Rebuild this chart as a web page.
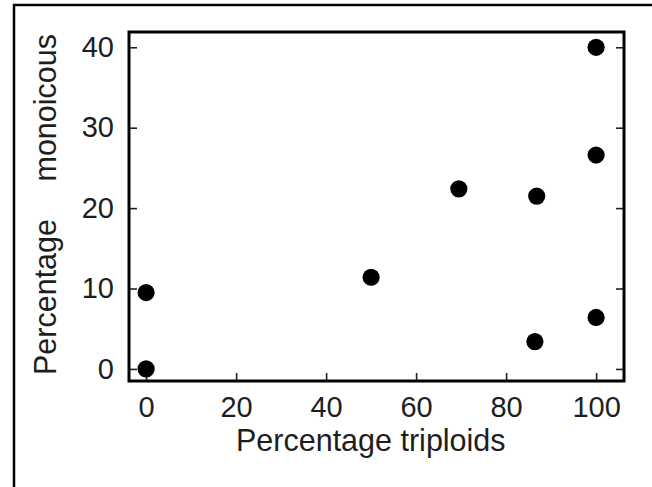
<!DOCTYPE html>
<html>
  <head>
    <meta charset="utf-8" />
    <script src="https://d3js.org/d3.v7.min.js"></script>
    <title>Percentage monoicous vs percentage triploids</title>
    <style>
      body {
        margin: 0px;
        background: #fff;
        font-family: 'Liberation Sans', Arial, sans-serif;
      }
      .domain {
        display: none;
      }
      .tick line {
        stroke: #222;
        stroke-width: 1.6;
      }
      .tick text {
        fill: #1e1e1e;
        font-size: 29px;
        font-family: 'Liberation Sans', Arial, sans-serif;
      }
      .axis-label {
        fill: #1e1e1e;
        font-size: 30.5px;
      }
    </style>
  </head>
  <body>
    <script>
      // percentage triploids (x) and percentage monoicous (y)
      const triploids = [0, 0, 50, 69.5, 86.8, 86.4, 100, 100, 100];
      const monoicous = [9.5, 0, 11.4, 22.4, 21.5, 3.4, 40, 26.6, 6.4];
      const xTicks = [0, 20, 40, 60, 80, 100];
      const yTicks = [0, 10, 20, 30, 40];
      const xLabel = 'Percentage triploids';
      const yLabelWords = ['Percentage', 'monoicous'];

      const width = 652;
      const height = 487;
      const box = { left: 129, right: 624, top: 32, bottom: 381 };

      const svg = d3
        .select('body')
        .append('svg')
        .attr('width', width)
        .attr('height', height);

      // outer frame (only top and left edges are visible)
      svg
        .append('path')
        .attr('d', `M14,${height + 5} V5 H${width + 5}`)
        .attr('fill', 'none')
        .attr('stroke', '#000')
        .attr('stroke-width', 2.5);

      const xScale = d3
        .scaleLinear()
        .domain([-3.8, 106.2])
        .range([box.left, box.right]);
      const yScale = d3
        .scaleLinear()
        .domain([-1.5, 41.9])
        .range([box.bottom, box.top]);

      svg
        .append('g')
        .attr('transform', `translate(0,${box.bottom})`)
        .call(
          d3
            .axisBottom(xScale)
            .tickValues(xTicks)
            .tickSize(-8)
            .tickPadding(15)
        );

      svg
        .append('g')
        .attr('transform', `translate(${box.left},0)`)
        .call(
          d3
            .axisLeft(yScale)
            .tickValues(yTicks)
            .tickSize(-8)
            .tickPadding(15)
        );

      svg
        .append('g')
        .attr('transform', `translate(${box.right},0)`)
        .call(
          d3
            .axisRight(yScale)
            .tickValues(yTicks)
            .tickSize(-8)
            .tickFormat('')
        );

      svg
        .append('rect')
        .attr('x', box.left)
        .attr('y', box.top)
        .attr('width', box.right - box.left)
        .attr('height', box.bottom - box.top)
        .attr('fill', 'none')
        .attr('stroke', '#000')
        .attr('stroke-width', 3);

      svg
        .append('g')
        .selectAll('circle')
        .data(d3.range(triploids.length))
        .join('circle')
        .attr('cx', (i) => xScale(triploids[i]))
        .attr('cy', (i) => yScale(monoicous[i]))
        .attr('r', 8.6)
        .attr('fill', '#000');

      svg
        .append('text')
        .attr('class', 'axis-label')
        .attr('x', 236)
        .attr('y', 451)
        .text(xLabel);

      // y label: two words with a wide gap, read bottom to top
      svg
        .append('text')
        .attr('class', 'axis-label')
        .attr('transform', 'translate(56,375) rotate(-90)')
        .attr('text-anchor', 'start')
        .text(yLabelWords[0]);
      svg
        .append('text')
        .attr('class', 'axis-label')
        .attr('transform', 'translate(56,34) rotate(-90)')
        .attr('text-anchor', 'end')
        .text(yLabelWords[1]);
    </script>
  </body>
</html>
